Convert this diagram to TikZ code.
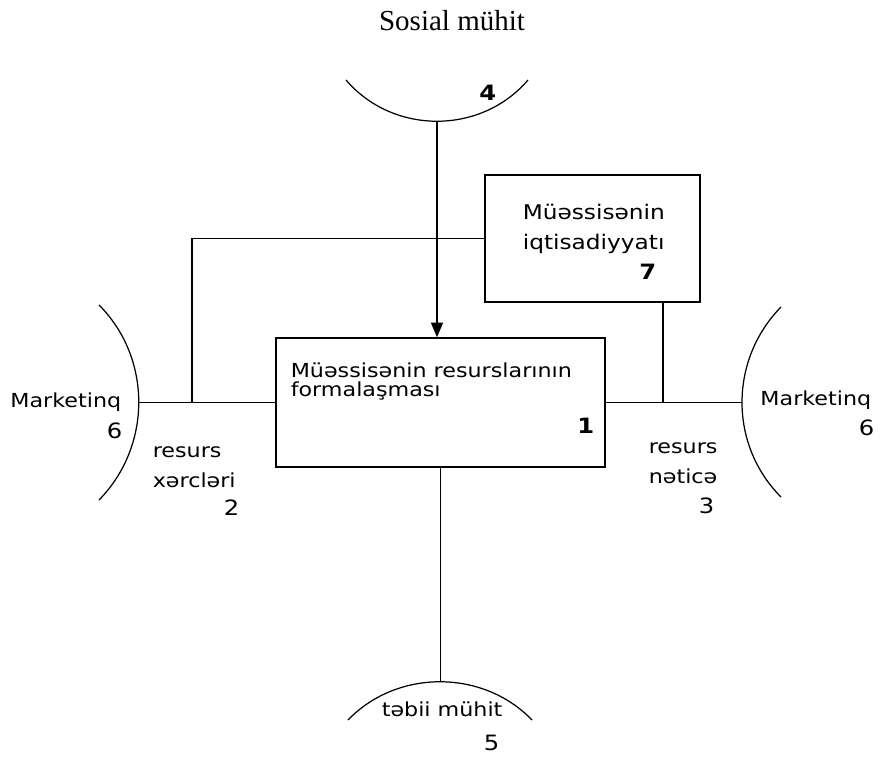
\documentclass[tikz,border=0pt]{standalone}
\usepackage{fontspec}
\setmainfont{Liberation Serif}
\newfontfamily\lab[FakeStretch=1.15]{DejaVu Sans}
\usetikzlibrary{arrows, positioning}

\begin{document}
\begin{tikzpicture}[
                > = triangle 45, % arrow head style
                x = 0.02cm, y = -0.02cm, % one unit = one pixel
                line width = 0.9pt, % line style
                font = \lab\fontsize{11}{13}\selectfont
                ]
                \tikzstyle{block}=[
                    draw,
                    rectangle,
                    inner sep = 0pt,
                ]
                \tikzstyle{lbl}=[inner sep = 0pt]
                \tikzstyle{num}=[inner sep = 0pt, font = \lab\fontsize{12}{14}\selectfont]
                \tikzstyle{env}=[line width = 0.7pt]

                \useasboundingbox (0,0) rectangle (884,756);

                % boxes
                \node[block, minimum width = 6.58cm, minimum height = 2.58cm] (res) at (440.5,402.5) {};
                \node[block, minimum width = 4.3cm, minimum height = 2.54cm] (eco) at (592.5,238.5) {};

                % surroundings
                \draw[env] (346,80) .. controls (393,135) and (481,135) .. (528,80);
                \draw[env] (99,305) .. controls (152,358) and (152,446) .. (99,500);
                \draw[env] (781,307) .. controls (729,360) and (729,445) .. (781,497);
                \draw[env] (348,720) .. controls (397,669) and (483,669) .. (532,720);
                \coordinate (soc) at (437,122);
                \coordinate (mkl) at (139,402.5);
                \coordinate (mkr) at (742,402.5);
                \coordinate (nat) at (440.5,682);
                \coordinate (jl) at (192,402.5);
                \coordinate (jr) at (663,402.5);

                % texts
                \node[lbl, anchor = base, font = \rmfamily\fontsize{16.5}{18}\selectfont] (title) at (452,31) {Sosial mühit};
                \node[num, anchor = base east, font = \lab\bfseries\fontsize{12}{14}\selectfont] (n4) at (497,101) {4};

                \node[lbl, anchor = base west] (r1a) at (290,377) {Müəssisənin resurslarının};
                \node[lbl, anchor = base west] (r1b) at (290,396) {formalaşması};
                \node[num, anchor = base east, font = \lab\bfseries\fontsize{12}{14}\selectfont] (n1) at (595,433) {1};

                \node[lbl, anchor = base west, font = \lab\fontsize{11.5}{13}\selectfont] (e7a) at (522,220) {Müəssisənin};
                \node[lbl, anchor = base west, font = \lab\fontsize{11.5}{13}\selectfont] (e7b) at (522,250) {iqtisadiyyatı};
                \node[num, anchor = base east, font = \lab\bfseries\fontsize{12}{14}\selectfont] (n7) at (657,280) {7};

                \node[lbl, anchor = base east] (ml) at (122,407) {Marketinq};
                \node[num, anchor = base east] (n6l) at (123,438) {6};
                \node[lbl, anchor = base west] (x2a) at (152,457) {resurs};
                \node[lbl, anchor = base west] (x2b) at (152,487) {xərcləri};
                \node[num, anchor = base east] (n2) at (240,515) {2};

                \node[lbl, anchor = base east] (mr) at (872,405) {Marketinq};
                \node[num, anchor = base east] (n6r) at (875,435) {6};
                \node[lbl, anchor = base west] (x3a) at (648,453) {resurs};
                \node[lbl, anchor = base west] (x3b) at (648,483) {nəticə};
                \node[num, anchor = base east] (n3) at (715,513) {3};

                \node[lbl, anchor = base west] (tm) at (381,716) {təbii mühit};
                \node[num, anchor = base east] (n5) at (500,750) {5};

                % links
                \draw[->] (soc) -- (soc |- res.north);
                \draw (mkl) -- (res.west);
                \draw (res.east) -- (mkr);
                \draw (eco.west) -| (jl);
                \draw (eco.south -| jr) -- (jr);
                \draw (res.south) -- (nat);
            \end{tikzpicture}
\end{document}
